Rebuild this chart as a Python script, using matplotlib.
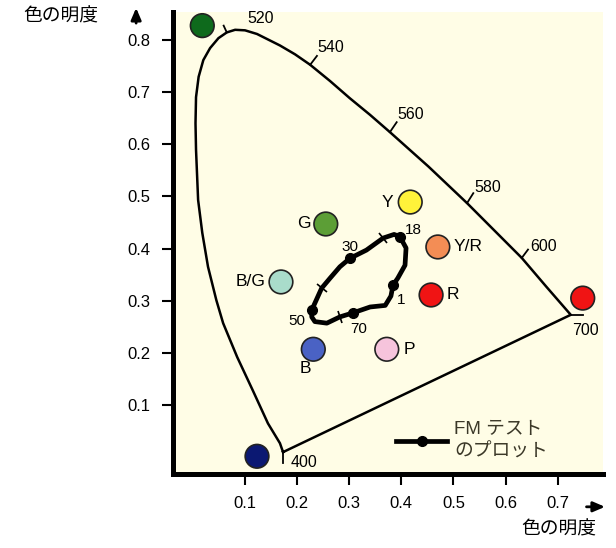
import matplotlib
matplotlib.use("Agg")
import matplotlib.pyplot as plt
from matplotlib.markers import MarkerStyle
from matplotlib.transforms import Affine2D

plt.rcParams['font.family'] = ['Liberation Sans', 'Noto Sans CJK JP']

# spectral locus, from 400 nm up the left side and round to 700 nm
locus_x = [0.173, 0.167, 0.144, 0.115, 0.085, 0.058, 0.045, 0.029, 0.018, 0.010,
           0.006, 0.005, 0.006, 0.011, 0.020, 0.033, 0.049, 0.065, 0.081, 0.100,
           0.123, 0.145, 0.167, 0.196, 0.225, 0.263, 0.301, 0.340, 0.378, 0.452,
           0.526, 0.578, 0.631, 0.678, 0.725]
locus_y = [0.010, 0.027, 0.065, 0.128, 0.192, 0.257, 0.301, 0.365, 0.430, 0.493,
           0.589, 0.640, 0.690, 0.729, 0.761, 0.784, 0.803, 0.814, 0.819, 0.818,
           0.811, 0.800, 0.789, 0.772, 0.752, 0.721, 0.688, 0.656, 0.623, 0.557,
           0.487, 0.435, 0.382, 0.327, 0.273]

# wavelength marks: label, index into the locus, tick offset (data units)
wl_labels = ['400', '520', '540', '560', '580', '600', '700']
wl_index = [0, 17, 24, 28, 30, 32, 34]
wl_tick = [(0.0, -0.021), (-0.006, 0.013), (0.013, 0.017), (0.013, 0.019),
           (0.012, 0.019), (0.012, 0.016), (0.023, 0.0)]
wl_text = [(0.188, -0.009), (0.104, 0.840), (0.238, 0.785), (0.392, 0.656),
           (0.541, 0.516), (0.647, 0.403), (0.753, 0.242)]

# colour samples
sample_names = ['', 'G', 'Y', 'Y/R', 'R', '', 'P', 'B', 'B/G', '']
sample_x = [0.018, 0.255, 0.417, 0.470, 0.457, 0.748, 0.372, 0.231, 0.169, 0.123]
sample_y = [0.827, 0.447, 0.489, 0.403, 0.311, 0.305, 0.207, 0.207, 0.336, 0.002]
sample_colors = ['#0e6a1c', '#5c9e36', '#fff23a', '#f38d55', '#f01414', '#f01414',
                 '#f6c4dc', '#4a62c4', '#a9dccb', '#0b1872']
# label offsets in points and alignment
sample_offsets = [(0, 0), (-11, 0), (-12, 0), (11, 0), (11, 0), (0, 0),
                  (12, 0), (-6, -14), (-11, 0), (0, 0)]
sample_ha = ['left', 'right', 'right', 'left', 'left', 'left',
             'left', 'center', 'right', 'left']

# FM test plot, caps 1 -> 18 -> 30 -> 50 -> 70 -> 1
fm_x = [0.384, 0.393, 0.407, 0.409, 0.397, 0.386, 0.365, 0.333, 0.301, 0.282,
        0.263, 0.247, 0.228, 0.228, 0.234, 0.257, 0.282, 0.308, 0.340, 0.369,
        0.380, 0.384]
fm_y = [0.330, 0.343, 0.368, 0.401, 0.423, 0.427, 0.420, 0.397, 0.381, 0.365,
        0.343, 0.324, 0.282, 0.269, 0.260, 0.257, 0.269, 0.277, 0.288, 0.291,
        0.309, 0.330]
cap_labels = ['1', '18', '30', '50', '70']
cap_index = [0, 4, 8, 12, 17]
cap_text_offsets = [(6, -11), (10, 5), (0, 8), (-11, -8), (4, -12)]
# intermediate cross ticks on the FM curve: index and tick angle
cross_index = [6, 11, 16]
cross_angle = [125, 145, 105]

fig = plt.figure(figsize=(6.16, 5.48), dpi=100)
ax = fig.add_axes([0.281, 0.135, 0.698, 0.843])
ax.set_facecolor('#fffde6')
ax.set_xlim(-0.038, 0.787)
ax.set_ylim(-0.032, 0.853)

# locus outline with the purple line closing it
ax.plot(locus_x + locus_x[:1], locus_y + locus_y[:1], color='black', lw=1.8,
        solid_joinstyle='round', zorder=2)
for lab, i, (dx, dy), (tx, ty) in zip(wl_labels, wl_index, wl_tick, wl_text):
    x0, y0 = locus_x[i], locus_y[i]
    ax.plot([x0, x0 + dx], [y0, y0 + dy], color='black', lw=1.3, zorder=2)
    ha = 'center' if lab == '700' else 'left'
    ax.text(tx, ty, lab, fontsize=11.5, ha=ha, va='center')

# colour samples
ax.scatter(sample_x, sample_y, s=290, c=sample_colors, edgecolors='#222222',
           linewidths=1.2, zorder=4)
for name, x, y, off, ha in zip(sample_names, sample_x, sample_y,
                               sample_offsets, sample_ha):
    if name:
        ax.annotate(name, (x, y), xytext=off, textcoords='offset points',
                    fontsize=12.5, ha=ha, va='center')

# FM test curve
ax.plot(fm_x, fm_y, color='black', lw=3.4, marker='o', ms=7,
        markevery=cap_index, solid_joinstyle='round',
        zorder=5, label='FM テスト\nのプロット')
for i, ang in zip(cross_index, cross_angle):
    m = MarkerStyle('|', transform=Affine2D().rotate_deg(ang - 90))
    ax.plot(fm_x[i], fm_y[i], marker=m, ms=9, mew=1.2, color='black', zorder=5)
for lab, i, off in zip(cap_labels, cap_index, cap_text_offsets):
    ax.annotate(lab, (fm_x[i], fm_y[i]), xytext=off, textcoords='offset points',
                fontsize=11, ha='center', va='center')

leg = ax.legend(loc='center left', bbox_to_anchor=(0.48, 0.072), frameon=False,
                fontsize=13.5, handlelength=2.7, handletextpad=0.4,
                labelcolor='#3b3828')
for t in leg.get_texts():
    t.set_linespacing(1.45)

# axes styling
for side in ['top', 'right']:
    ax.spines[side].set_visible(False)
for side in ['left', 'bottom']:
    ax.spines[side].set_linewidth(3.6)
ax.set_xticks([0.1, 0.2, 0.3, 0.4, 0.5, 0.6, 0.7])
ax.set_yticks([0.1, 0.2, 0.3, 0.4, 0.5, 0.6, 0.7, 0.8])
ax.set_xticklabels(['0.1', '0.2', '0.3', '0.4', '0.5', '0.6', '0.7'])
ax.set_yticklabels(['0.1', '0.2', '0.3', '0.4', '0.5', '0.6', '0.7', '0.8'])
ax.tick_params(direction='out', length=8, width=1.5, labelsize=12, pad=8)

ax.text(-0.26, 0.989, '色の明度', transform=ax.transAxes, fontsize=13.5,
        ha='center', va='center')
ax.text(0.898, -0.121, '色の明度', transform=ax.transAxes, fontsize=13.5,
        ha='center', va='center')
ax.annotate('', xy=(-0.086, 1.015), xytext=(-0.086, 0.970),
            xycoords='axes fraction', annotation_clip=False,
            arrowprops=dict(arrowstyle='-|>,head_length=0.7,head_width=0.3',
                            color='black', lw=2))
ax.annotate('', xy=(1.011, -0.071), xytext=(0.955, -0.071),
            xycoords='axes fraction', annotation_clip=False,
            arrowprops=dict(arrowstyle='-|>,head_length=0.7,head_width=0.3',
                            color='black', lw=2))

fig.savefig('out.png', dpi=100)
